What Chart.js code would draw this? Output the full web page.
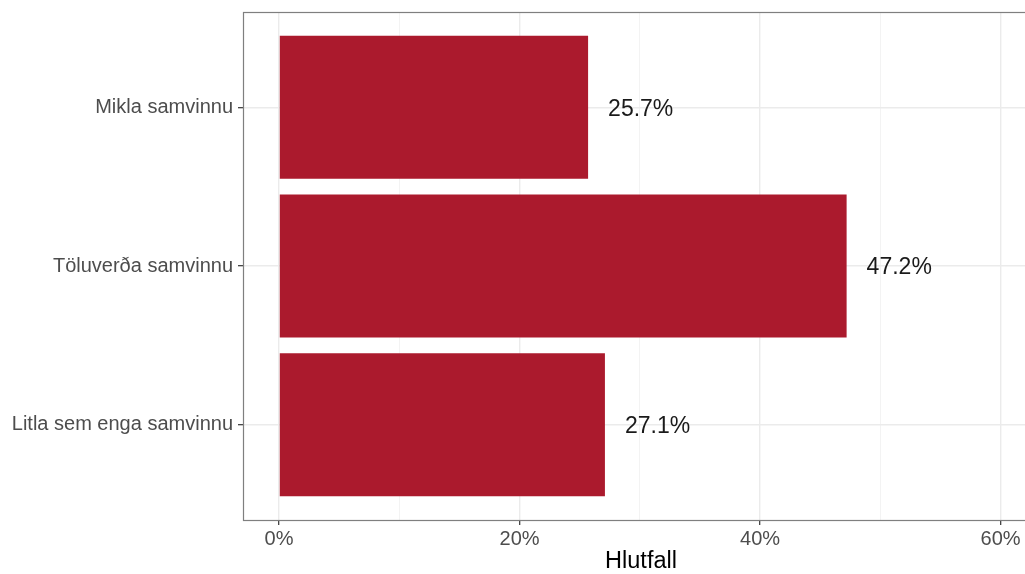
<!DOCTYPE html>
<html>
<head>
<meta charset="utf-8">
<script src="https://cdn.jsdelivr.net/npm/chart.js@4/dist/chart.umd.min.js"></script>
<style>
  html, body { margin: 0; padding: 0; background: #fff; overflow: hidden; }
  canvas { display: block; }
</style>
</head>
<body>
<canvas id="hlutfallChart" width="1045" height="574" style="width:1045px;height:574px"></canvas>
<script>
// Gögn
const flokkar = ['Mikla samvinnu', 'Töluverða samvinnu', 'Litla sem enga samvinnu'];
const hlutfall = [25.7, 47.2, 27.1];
const xTikk = [0, 10, 20, 30, 40, 50, 60];
const xTikkMerki = ['0%', '', '20%', '', '40%', '', '60%'];

const letur = '"Liberation Sans", Arial, Helvetica, sans-serif';

// Ramminn utan um teiknisvæðið (eins og theme_bw)
const rammi = {
    id: 'rammi',
    afterDraw(chart) {
        const a = chart.chartArea;
        const ctx = chart.ctx;
        ctx.save();
        ctx.strokeStyle = '#7f7f7f';
        ctx.lineWidth = 1.2;
        ctx.strokeRect(a.left + 0.5, a.top + 0.5, a.right - a.left, a.bottom - a.top);
        ctx.restore();
    }
};

// Prósentumerki hægra megin við súlurnar
const merki = {
    id: 'merki',
    afterDatasetsDraw(chart) {
        const ctx = chart.ctx;
        const meta = chart.getDatasetMeta(0);
        ctx.save();
        ctx.fillStyle = '#1a1a1a';
        ctx.font = '23px ' + letur;
        ctx.textAlign = 'left';
        ctx.textBaseline = 'middle';
        meta.data.forEach((bar, i) => {
            ctx.fillText(hlutfall[i].toFixed(1) + '%', bar.x + 20, bar.y + 2);
        });
        ctx.restore();
    }
};

const ctx = document.getElementById('hlutfallChart').getContext('2d');
new Chart(ctx, {
    type: 'bar',
    data: {
        datasets: [{
            data: hlutfall.map((v, i) => ({ x: v, y: i })),
            backgroundColor: '#AB1A2D',
            borderWidth: 0,
            categoryPercentage: 1,
            barPercentage: 0.9
        }]
    },
    options: {
        indexAxis: 'y',
        responsive: false,
        devicePixelRatio: 1,
        animation: false,
        layout: { padding: { left: 0, top: 12, right: 6, bottom: 0 } },
        plugins: {
            legend: { display: false },
            tooltip: { enabled: false }
        },
        scales: {
            x: {
                type: 'linear',
                min: -3.0,
                max: 63.2,
                afterBuildTicks: s => { s.ticks = xTikk.map(v => ({ value: v })); },
                afterFit: s => { s.height = 54; s.paddingLeft = 0; s.paddingRight = 0; },
                border: { display: false },
                grid: {
                    color: c => (c.tick && c.tick.value % 20 === 0) ? '#EBEBEB' : '#F3F3F3',
                    lineWidth: c => (c.tick && c.tick.value % 20 === 0) ? 1.4 : 1,
                    tickColor: c => (c.tick && c.tick.value % 20 === 0) ? '#333333' : 'rgba(0,0,0,0)',
                    tickWidth: 1.2,
                    tickLength: 5
                },
                ticks: {
                    autoSkip: false,
                    maxRotation: 0,
                    padding: 2,
                    color: '#4D4D4D',
                    font: { family: letur, size: 20 },
                    callback: (v, i) => xTikkMerki[i]
                },
                title: {
                    display: true,
                    text: 'Hlutfall',
                    color: '#000000',
                    font: { family: letur, size: 23.5, lineHeight: 1 },
                    padding: { top: 0, bottom: 1 }
                }
            },
            y: {
                type: 'linear',
                reverse: true,
                offset: false,
                min: -0.6,
                max: 2.6,
                afterBuildTicks: s => { s.ticks = flokkar.map((f, i) => ({ value: i })); },
                afterFit: s => { s.width = 243; s.paddingTop = 0; s.paddingBottom = 0; },
                border: { display: false },
                grid: {
                    offset: false,
                    color: '#EBEBEB',
                    lineWidth: 1.4,
                    tickColor: '#333333',
                    tickWidth: 1.2,
                    tickLength: 5
                },
                ticks: {
                    autoSkip: false,
                    padding: 5,
                    color: '#4D4D4D',
                    font: { family: letur, size: 20 },
                    callback: (v) => flokkar[v]
                }
            }
        }
    },
    plugins: [merki, rammi]
});
</script>
</body>
</html>
